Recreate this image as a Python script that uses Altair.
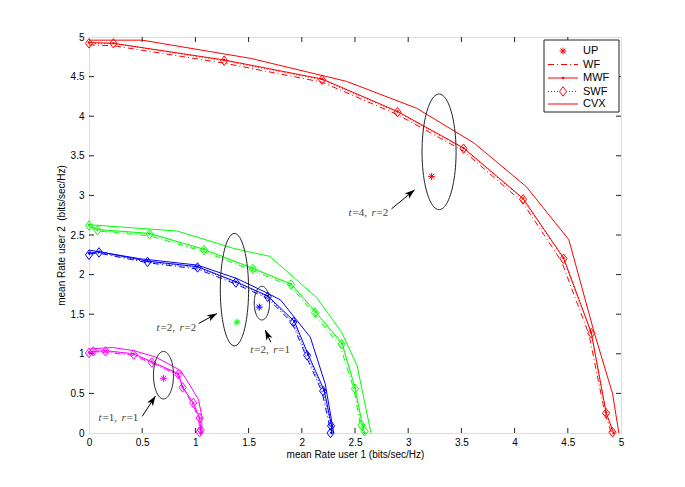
import altair as alt
import pandas as pd
import numpy as np

# ---------------- data ----------------
group_names = ["t1r1", "t2r1", "t2r2", "t4r2"]
group_colors = ["#ff00ff", "#0000ff", "#00ff00", "#ff0000"]

# SWF (diamonds)
swf_x_t1r1 = [0.0, 0.04, 0.156, 0.42, 0.59, 0.84, 0.88, 0.98, 1.04, 1.05, 1.04]
swf_y_t1r1 = [1.01, 1.03, 1.03, 0.99, 0.89, 0.74, 0.575, 0.38, 0.19, 0.04, 0.01]
swf_x_t2r1 = [0.0, 0.094, 0.55, 1.02, 1.38, 1.68, 1.92, 2.05, 2.20, 2.275, 2.27]
swf_y_t2r1 = [2.25, 2.28, 2.16, 2.09, 1.90, 1.72, 1.40, 0.98, 0.53, 0.09, 0.0]
swf_x_t2r2 = [0.0, 0.08, 0.57, 1.08, 1.54, 1.90, 2.125, 2.375, 2.50, 2.56, 2.59]
swf_y_t2r2 = [2.62, 2.56, 2.51, 2.31, 2.07, 1.875, 1.52, 1.12, 0.56, 0.10, 0.02]
swf_x_t4r2 = [0.0, 0.23, 1.27, 2.19, 2.90, 3.52, 4.08, 4.46, 4.72, 4.86, 4.92]
swf_y_t4r2 = [4.92, 4.92, 4.70, 4.46, 4.05, 3.59, 2.95, 2.20, 1.26, 0.25, 0.01]

# WF (dash-dot)
wf_x_t1r1 = [0.0, 0.04, 0.156, 0.42, 0.59, 0.83, 0.88, 0.97, 1.03, 1.04, 1.04]
wf_y_t1r1 = [1.00, 1.02, 1.02, 0.98, 0.88, 0.74, 0.57, 0.37, 0.19, 0.04, 0.0]
wf_x_t2r1 = [0.0, 0.094, 0.55, 1.02, 1.38, 1.68, 1.91, 2.04, 2.19, 2.26, 2.26]
wf_y_t2r1 = [2.26, 2.27, 2.15, 2.07, 1.88, 1.70, 1.39, 0.97, 0.52, 0.09, 0.0]
wf_x_t2r2 = [0.0, 0.08, 0.57, 1.08, 1.54, 1.89, 2.12, 2.36, 2.49, 2.55, 2.58]
wf_y_t2r2 = [2.61, 2.55, 2.49, 2.29, 2.05, 1.86, 1.50, 1.10, 0.55, 0.10, 0.0]
wf_x_t4r2 = [0.0, 0.23, 1.27, 2.19, 2.90, 3.52, 4.07, 4.44, 4.70, 4.85, 4.91]
wf_y_t4r2 = [4.90, 4.89, 4.67, 4.43, 4.02, 3.56, 2.92, 2.17, 1.24, 0.24, 0.0]

# MWF (solid with dots)
mwf_x_t1r1 = [0.0, 0.04, 0.156, 0.42, 0.59, 0.84, 0.88, 0.98, 1.04, 1.05, 1.05]
mwf_y_t1r1 = [1.02, 1.03, 1.04, 1.00, 0.90, 0.75, 0.58, 0.38, 0.19, 0.04, 0.0]
mwf_x_t2r1 = [0.0, 0.094, 0.55, 1.02, 1.38, 1.68, 1.93, 2.06, 2.21, 2.28, 2.28]
mwf_y_t2r1 = [2.27, 2.29, 2.17, 2.10, 1.91, 1.73, 1.41, 0.99, 0.54, 0.09, 0.0]
mwf_x_t2r2 = [0.0, 0.08, 0.57, 1.08, 1.54, 1.90, 2.13, 2.38, 2.50, 2.57, 2.59]
mwf_y_t2r2 = [2.63, 2.57, 2.52, 2.32, 2.08, 1.88, 1.53, 1.13, 0.57, 0.10, 0.0]
mwf_x_t4r2 = [0.0, 0.23, 1.27, 2.19, 2.90, 3.52, 4.08, 4.46, 4.72, 4.86, 4.93]
mwf_y_t4r2 = [4.93, 4.92, 4.71, 4.47, 4.06, 3.60, 2.96, 2.21, 1.27, 0.26, 0.0]

# CVX (solid)
cvx_x_t1r1 = [0.0, 0.22, 0.42, 0.625, 0.86, 0.95, 1.03, 1.06, 1.06]
cvx_y_t1r1 = [1.06, 1.08, 1.04, 0.96, 0.79, 0.60, 0.42, 0.21, 0.0]
cvx_x_t2r1 = [0.0, 0.48, 1.02, 1.39, 1.67, 1.80, 2.08, 2.22, 2.30]
cvx_y_t2r1 = [2.31, 2.20, 2.12, 1.95, 1.77, 1.68, 1.21, 0.62, 0.0]
cvx_x_t2r2 = [0.0, 0.83, 1.36, 1.70, 2.14, 2.375, 2.52, 2.65]
cvx_y_t2r2 = [2.63, 2.55, 2.33, 2.23, 1.71, 1.27, 0.85, 0.0]
cvx_x_t4r2 = [0.0, 0.5, 1.52, 2.42, 3.08, 3.62, 4.11, 4.51, 4.75, 4.92, 4.98]
cvx_y_t4r2 = [4.96, 4.96, 4.73, 4.44, 4.10, 3.66, 3.11, 2.44, 1.26, 0.50, 0.0]

# UP (stars)
up_x = [0.70, 1.60, 1.39, 3.22]
up_y = [0.69, 1.59, 1.40, 3.24]

# Ellipses (center, radii) in data units
ell_cx = [0.70, 1.625, 1.367, 3.29]
ell_cy = [0.73, 1.64, 1.81, 3.55]
ell_rx = [0.094, 0.072, 0.133, 0.16]
ell_ry = [0.30, 0.213, 0.71, 0.73]

# Arrows (tail -> tip) and labels
arrow_x1 = [0.50, 1.709, 1.03, 2.843]
arrow_y1 = [0.21, 1.146, 1.383, 2.83]
arrow_x2 = [0.625, 1.656, 1.203, 3.06]
arrow_y2 = [0.467, 1.30, 1.508, 3.07]
label_t = ["1", "2", "2", "4"]
label_r = ["1", "1", "2", "2"]
label_x = [0.09, 1.515, 0.635, 2.44]
label_y = [0.19, 1.05, 1.32, 2.78]

tick_values = [0, 0.5, 1, 1.5, 2, 2.5, 3, 3.5, 4, 4.5, 5]
legend_labels = ["UP", "WF", "MWF", "SWF", "CVX"]

# ---------------- build tables ----------------
W, H = 532, 396
series_data = {
    "SWF": (swf_x_t1r1, swf_y_t1r1, swf_x_t2r1, swf_y_t2r1, swf_x_t2r2, swf_y_t2r2, swf_x_t4r2, swf_y_t4r2),
    "WF": (wf_x_t1r1, wf_y_t1r1, wf_x_t2r1, wf_y_t2r1, wf_x_t2r2, wf_y_t2r2, wf_x_t4r2, wf_y_t4r2),
    "MWF": (mwf_x_t1r1, mwf_y_t1r1, mwf_x_t2r1, mwf_y_t2r1, mwf_x_t2r2, mwf_y_t2r2, mwf_x_t4r2, mwf_y_t4r2),
    "CVX": (cvx_x_t1r1, cvx_y_t1r1, cvx_x_t2r1, cvx_y_t2r1, cvx_x_t2r2, cvx_y_t2r2, cvx_x_t4r2, cvx_y_t4r2),
}
rows = []
for s, arrs in series_data.items():
    for gi, g in enumerate(group_names):
        xs_, ys_ = arrs[2 * gi], arrs[2 * gi + 1]
        for i, (xv, yv) in enumerate(zip(xs_, ys_)):
            rows.append({"series": s, "group": g, "key": s + g, "i": i, "x": xv, "y": yv})
df = pd.DataFrame(rows)

up_df = pd.DataFrame({"group": group_names, "x": up_x, "y": up_y})

ell_rows = []
theta = np.linspace(0, 2 * np.pi, 91)
for k in range(len(ell_cx)):
    for i, t in enumerate(theta):
        ell_rows.append({"k": k, "i": i,
                         "x": ell_cx[k] + ell_rx[k] * np.cos(t),
                         "y": ell_cy[k] + ell_ry[k] * np.sin(t)})
ell_df = pd.DataFrame(ell_rows)

px_x, px_y = W / 5.0, H / 5.0
arr_df = pd.DataFrame({"x": arrow_x1, "y": arrow_y1, "x2": arrow_x2, "y2": arrow_y2})
arr_df["angle"] = np.degrees(np.arctan2((arr_df.x2 - arr_df.x) * px_x, (arr_df.y2 - arr_df.y) * px_y)) % 360
arr_df["hx"] = arr_df["x2"]
arr_df["hy"] = arr_df["y2"]
lab_df = pd.DataFrame({"t": label_t, "r": label_r, "x": label_x, "y": label_y})
lab_df["eq_t"] = "=" + lab_df["t"] + ","
lab_df["eq_r"] = "=" + lab_df["r"]
tick_df = pd.DataFrame({"x": tick_values[1:-1], "y": tick_values[1:-1]})

color_scale = alt.Scale(domain=group_names, range=group_colors)
xs = alt.Scale(domain=[0, 5], nice=False, zero=False)
ys = alt.Scale(domain=[0, 5], nice=False, zero=False)

common_axis = dict(values=tick_values, format="~g", ticks=False, tickSize=0, domain=False, grid=False,
                   labelFont="Liberation Sans", labelFontSize=10, labelColor="black",
                   labelOverlap=False, labelFlush=False,
                   titleFont="Liberation Sans", titleFontSize=10, titleFontWeight="normal",
                   titleColor="black")
xaxis = alt.Axis(labelPadding=4, title="mean Rate user 1 (bits/sec/Hz)", titlePadding=2, **common_axis)
yaxis = alt.Axis(labelPadding=5, title="mean Rate user 2 \u00a0(bits/sec/Hz)", titlePadding=4, **common_axis)

X = alt.X("x:Q", scale=xs, axis=xaxis)
Y = alt.Y("y:Q", scale=ys, axis=yaxis)
C = alt.Color("group:N", scale=color_scale, legend=None)

base = alt.Chart(df)
cvx = base.transform_filter(alt.datum.series == "CVX").mark_line(strokeWidth=1).encode(
    x=X, y=Y, color=C, detail="key:N", order="i:Q")
mwf = base.transform_filter(alt.datum.series == "MWF").mark_line(strokeWidth=1).encode(
    x=X, y=Y, color=C, detail="key:N", order="i:Q")
wf = base.transform_filter(alt.datum.series == "WF").mark_line(strokeWidth=1, strokeDash=[6, 3, 1, 3]).encode(
    x=X, y=Y, color=C, detail="key:N", order="i:Q")
swf = base.transform_filter(alt.datum.series == "SWF").mark_line(strokeWidth=1, strokeDash=[1, 2]).encode(
    x=X, y=Y, color=C, detail="key:N", order="i:Q")

diamond = "M0,-1L0.75,0L0,1L-0.75,0Z"
swf_pts = base.transform_filter(alt.datum.series == "SWF").mark_point(
    shape=diamond, size=90, filled=False, strokeWidth=1, opacity=1).encode(x=X, y=Y, color=C)
mwf_pts = base.transform_filter(alt.datum.series == "MWF").mark_point(
    shape="circle", size=6, filled=True, opacity=1).encode(x=X, y=Y, color=C)

star = "M-1,0L1,0M0,-1L0,1M-0.7,-0.7L0.7,0.7M-0.7,0.7L0.7,-0.7"
up = alt.Chart(up_df).mark_point(shape=star, size=49, filled=False, strokeWidth=1, opacity=1).encode(
    x=X, y=Y, color=C)

ell = alt.Chart(ell_df).mark_line(color="#222", strokeWidth=1).encode(
    x=X, y=Y, detail="k:N", order="i:Q")

arr_line = alt.Chart(arr_df).mark_rule(color="black", strokeWidth=1).encode(
    x=X, y=Y, x2="x2:Q", y2="y2:Q")
head = "M0,0L0.55,1.6L0,1.2L-0.55,1.6Z"
arr_head = alt.Chart(arr_df).transform_calculate(x="datum.hx", y="datum.hy").mark_point(
    shape=head, size=156, filled=True, color="black", opacity=1).encode(
    x=X, y=Y, angle=alt.Angle("angle:Q", scale=None))

# labels "t=1, r=1" with italic t and r (serif, LaTeX-like)
lab_kw = dict(font="Liberation Serif", fontSize=11, color="#444", align="left", baseline="middle")
lab_t = alt.Chart(lab_df).mark_text(fontStyle="italic", text="t", **lab_kw).encode(x=X, y=Y)
lab_eqt = alt.Chart(lab_df).mark_text(dx=4, **lab_kw).encode(x=X, y=Y, text="eq_t:N")
lab_r = alt.Chart(lab_df).mark_text(fontStyle="italic", dx=23, text="r", **lab_kw).encode(x=X, y=Y)
lab_eqr = alt.Chart(lab_df).mark_text(dx=28, **lab_kw).encode(x=X, y=Y, text="eq_r:N")

# inward ticks
tk = alt.Chart(tick_df)
tk_b = tk.mark_rule(color="#222").encode(x=X, y=alt.value(H), y2=alt.value(H - 5))
tk_t = tk.mark_rule(color="#222").encode(x=X, y=alt.value(0), y2=alt.value(5))
tk_l = tk.mark_rule(color="#222").encode(y=Y, x=alt.value(0), x2=alt.value(5))
tk_r = tk.mark_rule(color="#222").encode(y=Y, x=alt.value(W), x2=alt.value(W - 5))

# legend (drawn as a box in the upper-right corner)
lg_x0, lg_x1, lg_y0, lg_y1 = 455, 530, 3, 75
lg_rows = [14, 27.5, 41, 54.5, 67]
lg_line0, lg_line1, lg_mid, lg_text = 459, 489, 474, 494
one = pd.DataFrame({"a": [0]})
leg = [alt.Chart(one).mark_rect(fill="white", stroke="#222", strokeWidth=1).encode(
    x=alt.value(lg_x0), x2=alt.value(lg_x1), y=alt.value(lg_y0), y2=alt.value(lg_y1))]
red = group_colors[3]
for r, lab in zip(lg_rows, legend_labels):
    leg.append(alt.Chart(one).mark_text(font="Liberation Sans", fontSize=11, align="left",
                                        baseline="middle", color="black", text=lab).encode(
        x=alt.value(lg_text), y=alt.value(r)))
leg.append(alt.Chart(one).mark_rule(color=red, strokeDash=[6, 3, 1, 3]).encode(
    x=alt.value(lg_line0), x2=alt.value(lg_line1), y=alt.value(lg_rows[1])))
leg.append(alt.Chart(one).mark_rule(color=red).encode(
    x=alt.value(lg_line0), x2=alt.value(lg_line1), y=alt.value(lg_rows[2])))
leg.append(alt.Chart(one).mark_point(shape="circle", size=6, filled=True, color=red, opacity=1).encode(
    x=alt.value(lg_mid), y=alt.value(lg_rows[2])))
leg.append(alt.Chart(one).mark_rule(color=red, strokeDash=[1, 2]).encode(
    x=alt.value(lg_line0), x2=alt.value(lg_line1), y=alt.value(lg_rows[3])))
leg.append(alt.Chart(one).mark_point(shape=diamond, size=90, filled=True, fill="white", stroke=red,
                                     strokeWidth=1, opacity=1).encode(
    x=alt.value(lg_mid), y=alt.value(lg_rows[3])))
leg.append(alt.Chart(one).mark_rule(color=red).encode(
    x=alt.value(lg_line0), x2=alt.value(lg_line1), y=alt.value(lg_rows[4])))
leg.append(alt.Chart(one).mark_point(shape=star, size=49, filled=False, stroke=red, strokeWidth=1,
                                     opacity=1).encode(
    x=alt.value(lg_mid), y=alt.value(lg_rows[0])))

chart = alt.layer(cvx, mwf, wf, swf, swf_pts, mwf_pts, up, ell, arr_line, arr_head,
                  lab_t, lab_eqt, lab_r, lab_eqr,
                  tk_b, tk_t, tk_l, tk_r, *leg).properties(
    width=W, height=H,
    autosize=alt.AutoSizeParams(type="none"),
    padding={"left": 81, "top": 29, "right": 56, "bottom": 46},
).configure_view(stroke="#222", strokeWidth=1).configure_axis(labelOverlap=False).configure(background="white")

chart.save("out.html", embed_options={"renderer": "svg", "actions": False})
